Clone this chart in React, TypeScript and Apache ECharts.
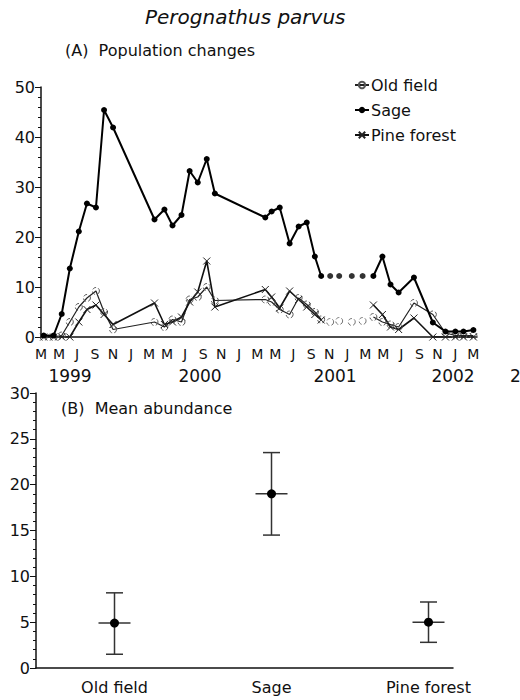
import React, { useEffect, useRef } from 'react';
import * as echarts from 'echarts';

// ---- Panel A data (months counted from March 1999) ----
const sampleMonths = [0.3, 1.4, 2.3, 3.2, 4.2, 5.1, 6.1, 7.0, 8.0, 12.6, 13.7, 14.6, 15.6, 16.5, 17.4, 18.4, 19.3, 24.9, 25.6, 26.5, 27.6, 28.6, 29.5, 30.4, 31.1, 32.1, 33.1, 34.5, 35.7, 36.9, 37.9, 38.8, 39.7, 41.4, 43.5, 44.9, 46.0, 46.9, 48.0];
const sageValues = [0.3, 0.3, 4.6, 13.7, 21.1, 26.7, 25.9, 45.4, 41.9, 23.5, 25.5, 22.3, 24.4, 33.2, 30.9, 35.6, 28.7, 23.9, 25.1, 25.9, 18.7, 22.1, 22.9, 16.1, 12.2, 12.2, 12.2, 12.2, 12.2, 12.2, 16.1, 10.5, 8.9, 11.9, 2.9, 1.1, 1.1, 1.1, 1.4];
const oldFieldValues = [0, 0, 0.3, 3.0, 6.0, 7.8, 9.2, 5.0, 1.5, 3.0, 2.0, 3.5, 3.0, 7.5, 8.0, 10.0, 7.3, 7.5, 7.0, 5.5, 4.5, 7.8, 6.5, 5.0, 3.5, 3.0, 3.2, 3.0, 3.2, 4.0, 3.0, 2.5, 2.0, 6.8, 4.5, 0.8, 0.3, 0.3, 0.3];
const pineForestValues = [0, 0, 0, 0, 3.0, 5.5, 6.4, 4.5, 2.5, 6.8, 2.5, 3.0, 4.0, 7.0, 9.0, 15.2, 6.0, 9.5, 8.0, 5.8, 9.2, 7.5, 6.0, 4.5, 3.4, null, null, null, null, 6.4, 4.5, 2.0, 1.5, 3.8, 0, 0, 0, 0, 0];
const gapStartMonth = 31.1;
const gapEndMonth = 36.9;
const monthTickLabels = ['M', 'M', 'J', 'S', 'N', 'J', 'M', 'M', 'J', 'S', 'N', 'J', 'M', 'M', 'J', 'S', 'N', 'J', 'M', 'M', 'J', 'S', 'N', 'J', 'M'];
const yearLabels = ['1999', '2000', '2001', '2002', '2'];

// ---- Panel B data ----
const habitatCategories = ['Old field', 'Sage', 'Pine forest'];
const meanAbundance = [4.9, 19.0, 5.0];
const lowerBound = [1.5, 14.5, 2.8];
const upperBound = [8.2, 23.5, 7.2];

const FONT = 'DejaVu Sans';
const INK = '#111';

const inGap = (m: number) => m > gapStartMonth && m < gapEndMonth;
const lineData = (vals: (number | null)[]) =>
  sampleMonths.map((m, i) => [m, inGap(m) || vals[i] === null ? '-' : vals[i]]);
const gapData = (vals: (number | null)[]) =>
  sampleMonths.map((m, i) => [m, vals[i]]).filter((d) => inGap(d[0] as number) && d[1] !== null);

const X_SYMBOL = 'path://M0 0L10 10M10 0L0 10';

export default function App() {
  const ref = useRef<HTMLDivElement>(null);
  useEffect(() => {
    document.body.style.margin = '0';
    const chart = echarts.init(ref.current!, null, { renderer: 'svg' });
    const axisLine = { show: true, lineStyle: { color: INK, width: 1.5 } };
    const sageStyle = {
      symbol: 'circle', symbolSize: 6,
      itemStyle: { color: '#000' },
    };
    const oldStyle = {
      symbol: 'circle', symbolSize: 7,
      itemStyle: { color: 'rgba(255,255,255,0)', borderColor: '#555', borderWidth: 1, borderType: 'dashed' as const },
    };
    const pineStyle = {
      symbol: X_SYMBOL, symbolSize: 7,
      itemStyle: { color: 'rgba(255,255,255,0)', borderColor: '#222', borderWidth: 1 },
    };
    const yearText = (i: number, x: number, align: string) => ({
      type: 'text', x, y: 376,
      style: { text: yearLabels[i], font: `17px "${FONT}"`, fill: INK, align, verticalAlign: 'middle' },
    });
    const option: any = {
      animation: false,
      textStyle: { fontFamily: FONT, color: INK },
      title: [
        { text: 'Perognathus parvus', left: 140, top: 2, textStyle: { fontFamily: FONT, fontStyle: 'italic', fontWeight: 'normal', fontSize: 20, color: INK } },
        { text: '(A)  Population changes', left: 60, top: 37, textStyle: { fontFamily: FONT, fontWeight: 'normal', fontSize: 16, color: INK } },
        { text: '(B)  Mean abundance', left: 56, top: 395, textStyle: { fontFamily: FONT, fontWeight: 'normal', fontSize: 16, color: INK } },
      ],
      legend: {
        orient: 'vertical', left: 349, top: 72,
        itemWidth: 14, itemHeight: 8, itemGap: 9,
        data: ['Old field', 'Sage', 'Pine forest'],
        textStyle: { fontFamily: FONT, fontSize: 16, color: INK, padding: [0, 0, 0, -3] },
      },
      grid: [
        { left: 41, top: 87, width: 436, height: 250 },
        { left: 36, top: 393, width: 417, height: 275 },
      ],
      xAxis: [
        {
          gridIndex: 0, type: 'value', min: 0, max: 48.4, interval: 2,
          axisLine, axisTick: { show: false }, splitLine: { show: false },
          axisLabel: {
            fontFamily: FONT, fontSize: 14, color: INK, margin: 10, showMaxLabel: false,
            formatter: (v: number) => (Number.isInteger(v / 2) ? monthTickLabels[v / 2] ?? '' : ''),
          },
        },
        {
          gridIndex: 1, type: 'value', min: 0.5, max: 3.156,
          axisLine, axisTick: { show: false }, splitLine: { show: false },
          axisLabel: {
            fontFamily: FONT, fontSize: 16, color: INK, margin: 11,
            customValues: [1, 2, 3],
            formatter: (v: number) => habitatCategories[Math.round(v) - 1] ?? '',
          },
        },
      ],
      yAxis: [
        {
          gridIndex: 0, type: 'value', min: 0, max: 50, interval: 10,
          axisLine, splitLine: { show: false },
          axisTick: { show: true, length: 6, lineStyle: { color: INK, width: 1 } },
          minorTick: { show: true, splitNumber: 5, length: 3, lineStyle: { color: INK, width: 1 } },
          minorSplitLine: { show: false },
          axisLabel: { fontFamily: FONT, fontSize: 16, color: INK, margin: 6 },
        },
        {
          gridIndex: 1, type: 'value', min: 0, max: 30, interval: 5,
          axisLine, splitLine: { show: false },
          axisTick: { show: true, length: 6, lineStyle: { color: INK, width: 1 } },
          minorTick: { show: true, splitNumber: 5, length: 3, lineStyle: { color: INK, width: 1 } },
          minorSplitLine: { show: false },
          axisLabel: { fontFamily: FONT, fontSize: 16, color: INK, margin: 6 },
        },
      ],
      series: [
        { name: 'Old field', type: 'line', xAxisIndex: 0, yAxisIndex: 0, data: lineData(oldFieldValues), lineStyle: { color: '#222', width: 1.2, type: 'solid' }, ...oldStyle, z: 3 },
        { name: 'Sage', type: 'line', xAxisIndex: 0, yAxisIndex: 0, data: lineData(sageValues), lineStyle: { color: '#000', width: 2, type: 'solid' }, ...sageStyle, z: 4 },
        { name: 'Pine forest', type: 'line', xAxisIndex: 0, yAxisIndex: 0, data: lineData(pineForestValues), lineStyle: { color: '#111', width: 1.6, type: 'solid' }, ...pineStyle, z: 3 },
        { name: 'Old field gap', type: 'scatter', xAxisIndex: 0, yAxisIndex: 0, data: gapData(oldFieldValues), ...oldStyle, z: 3 },
        { name: 'Sage gap', type: 'scatter', xAxisIndex: 0, yAxisIndex: 0, data: gapData(sageValues), ...sageStyle, z: 4 },
        {
          name: 'Mean abundance', type: 'custom', xAxisIndex: 1, yAxisIndex: 1,
          data: habitatCategories.map((_, i) => [i + 1, meanAbundance[i], lowerBound[i], upperBound[i]]),
          encode: { x: 0, y: 1 },
          renderItem: (_p: any, api: any) => {
            const x = api.value(0);
            const pm = api.coord([x, api.value(1)]);
            const pl = api.coord([x, api.value(2)]);
            const ph = api.coord([x, api.value(3)]);
            const st = { stroke: '#333', lineWidth: 1.5 };
            return {
              type: 'group',
              children: [
                { type: 'line', shape: { x1: pl[0], y1: pl[1], x2: ph[0], y2: ph[1] }, style: st },
                { type: 'line', shape: { x1: pl[0] - 8.5, y1: pl[1], x2: pl[0] + 8.5, y2: pl[1] }, style: st },
                { type: 'line', shape: { x1: ph[0] - 8.5, y1: ph[1], x2: ph[0] + 8.5, y2: ph[1] }, style: st },
                { type: 'line', shape: { x1: pm[0] - 16, y1: pm[1], x2: pm[0] + 16, y2: pm[1] }, style: st },
                { type: 'circle', shape: { cx: pm[0], cy: pm[1], r: 4.5 }, style: { fill: '#000' } },
              ],
            };
          },
        },
      ],
      graphic: [
        yearText(0, 70, 'center'),
        yearText(1, 200, 'center'),
        yearText(2, 335, 'center'),
        yearText(3, 453, 'center'),
        yearText(4, 510, 'left'),
      ],
    };
    chart.setOption(option);
    return () => chart.dispose();
  }, []);
  return <div ref={ref} style={{ width: 520, height: 700 }} />;
}
